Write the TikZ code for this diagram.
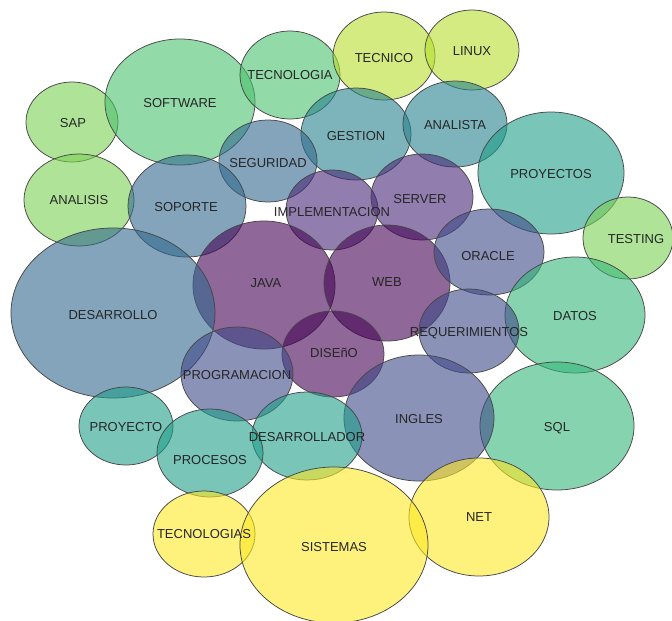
\documentclass[tikz,border=0pt]{standalone}
\usepackage{fontspec}
\setmainfont{Liberation Sans}
\usetikzlibrary{shapes.geometric}

\definecolor{vir1}{HTML}{440154}
\definecolor{vir2}{HTML}{482878}
\definecolor{vir3}{HTML}{3E4989}
\definecolor{vir4}{HTML}{31688E}
\definecolor{vir5}{HTML}{26828E}
\definecolor{vir6}{HTML}{1F9E89}
\definecolor{vir7}{HTML}{35B779}
\definecolor{vir7b}{HTML}{4AC16D}
\definecolor{vir8}{HTML}{7AD151}
\definecolor{vir9}{HTML}{B5DE2B}
\definecolor{vir10}{HTML}{FDE725}

\begin{document}
\begin{tikzpicture}[x=1pt, y=-1pt,
		bubble_style/.style={ellipse,draw=black!72,line width=0.75pt,fill opacity=0.6,inner sep=0pt},
		sz/.style 2 args={minimum width=#1pt,minimum height=#2pt},
		text_style/.style={font=\fontsize{13}{15}\selectfont,text=black!85}]
		
		\useasboundingbox (0,0) rectangle (672,621);
		
		\node[bubble_style,fill=vir8,sz={92}{80}]    (nSap) at (72,122) {};
		\node[bubble_style,fill=vir7b,sz={150}{126}] (nSoftware) at (180,102) {};
		\node[bubble_style,fill=vir7b,sz={100}{88}]  (nTecnologia) at (290,75) {};
		\node[bubble_style,fill=vir9,sz={102}{88}]   (nTecnico) at (384,56) {};
		\node[bubble_style,fill=vir9,sz={94}{80}]    (nLinux) at (472,50) {};
		\node[bubble_style,fill=vir5,sz={110}{92}]   (nGestion) at (356,134) {};
		\node[bubble_style,fill=vir5,sz={104}{86}]   (nAnalista) at (455,124) {};
		\node[bubble_style,fill=vir4,sz={98}{82}]    (nSeguridad) at (268,161) {};
		\node[bubble_style,fill=vir8,sz={110}{92}]   (nAnalisis) at (79,200) {};
		\node[bubble_style,fill=vir4,sz={118}{102}]  (nSoporte) at (187,206) {};
		\node[bubble_style,fill=vir6,sz={146}{122}]  (nProyectos) at (551,173) {};
		\node[bubble_style,fill=vir2,sz={92}{80}]    (nImplementacion) at (332,210) {};
		\node[bubble_style,fill=vir2,sz={102}{86}]   (nServer) at (422,197) {};
		\node[bubble_style,fill=vir8,sz={90}{82}]    (nTesting) at (628,238) {};
		\node[bubble_style,fill=vir1,sz={142}{128}]  (nJava) at (264,285) {};
		\node[bubble_style,fill=vir1,sz={126}{116}]  (nWeb) at (387,283) {};
		\node[bubble_style,fill=vir3,sz={110}{86}]   (nOracle) at (489,252) {};
		\node[bubble_style,fill=vir4,sz={204}{170}]  (nDesarrollo) at (113,313) {};
		\node[bubble_style,fill=vir7,sz={140}{116}]  (nDatos) at (575,315) {};
		\node[bubble_style,fill=vir3,sz={100}{84}]   (nRequerimientos) at (469,331) {};
		\node[bubble_style,fill=vir1,sz={102}{86}]   (nDiseno) at (333,354) {};
		\node[bubble_style,fill=vir3,sz={112}{94}]   (nProgramacion) at (237,374) {};
		\node[bubble_style,fill=vir6,sz={94}{78}]    (nProyecto) at (126,426) {};
		\node[bubble_style,fill=vir7,sz={154}{128}]  (nSql) at (557,426) {};
		\node[bubble_style,fill=vir3,sz={150}{126}]  (nIngles) at (419,418) {};
		\node[bubble_style,fill=vir6,sz={110}{88}]   (nDesarrollador) at (307,436) {};
		\node[bubble_style,fill=vir6,sz={106}{88}]   (nProcesos) at (210,453) {};
		\node[bubble_style,fill=vir10,sz={140}{118}] (nNet) at (479,517) {};
		\node[bubble_style,fill=vir10,sz={102}{86}]  (nTecnologias) at (204,534) {};
		\node[bubble_style,fill=vir10,sz={188}{156}] (nSistemas) at (334,545) {};
		
		% labels on top
		\node[text_style] at (73,123)  {SAP};
		\node[text_style] at (180,103) {SOFTWARE};
		\node[text_style] at (290,75)  {TECNOLOGIA};
		\node[text_style] at (384,58)  {TECNICO};
		\node[text_style] at (472,51)  {LINUX};
		\node[text_style] at (356,136) {GESTION};
		\node[text_style] at (455,125) {ANALISTA};
		\node[text_style] at (268,163) {SEGURIDAD};
		\node[text_style] at (79,200)  {ANALISIS};
		\node[text_style] at (186,207) {SOPORTE};
		\node[text_style] at (551,174) {PROYECTOS};
		\node[text_style] at (332,212) {IMPLEMENTACION};
		\node[text_style] at (420,199) {SERVER};
		\node[text_style] at (636,239) {TESTING};
		\node[text_style] at (266,283) {JAVA};
		\node[text_style] at (387,282) {WEB};
		\node[text_style] at (488,256) {ORACLE};
		\node[text_style] at (113,315) {DESARROLLO};
		\node[text_style] at (575,316) {DATOS};
		\node[text_style] at (469,333) {REQUERIMIENTOS};
		\node[text_style] at (334,353) {DISEñO};
		\node[text_style] at (237,375) {PROGRAMACION};
		\node[text_style] at (126,427) {PROYECTO};
		\node[text_style] at (557,428) {SQL};
		\node[text_style] at (419,419) {INGLES};
		\node[text_style] at (307,437) {DESARROLLADOR};
		\node[text_style] at (210,460) {PROCESOS};
		\node[text_style] at (479,517) {NET};
		\node[text_style] at (204,534) {TECNOLOGIAS};
		\node[text_style] at (334,547) {SISTEMAS};
		
\end{tikzpicture}
\end{document}
